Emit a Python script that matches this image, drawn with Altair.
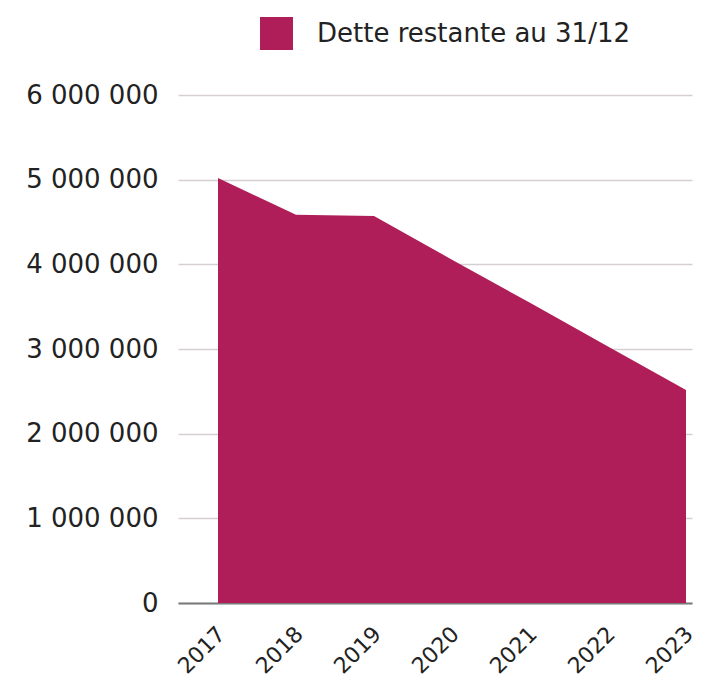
import altair as alt
import pandas as pd

years = [2017, 2018, 2019, 2020, 2021, 2022, 2023]
dette = [5020000, 4585000, 4570000, 4055000, 3545000, 3030000, 2515000]
series_name = "Dette restante au 31/12"
y_ticks = [0, 1000000, 2000000, 3000000, 4000000, 5000000, 6000000]

df = pd.DataFrame({"annee": years, "dette": dette, "serie": [series_name] * len(years)})

FONT = "DejaVu Sans"
COLOR = "#B01E5A"

chart = alt.Chart(df).mark_area(color=COLOR, opacity=1).encode(
    x=alt.X(
        "annee:Q",
        scale=alt.Scale(domain=[2016.4872, 2023.0769], nice=False, zero=False),
        axis=alt.Axis(
            values=years,
            format="d",
            title=None,
            labelAngle=-45,
            labelFontSize=22,
            labelFont=FONT,
            labelColor="#222222",
            ticks=False,
            grid=False,
            domain=True,
            domainColor="#7a7a7a",
            domainWidth=2,
            labelPadding=20,
            labelOffset=-4,
            labelFlush=False,
            labelOverlap=False,
        ),
    ),
    y=alt.Y(
        "dette:Q",
        scale=alt.Scale(domain=[0, 6000000], nice=False),
        axis=alt.Axis(
            values=y_ticks,
            title=None,
            labelExpr="datum.value == 0 ? '0' : format(datum.value / 1000000, 'd') + ' 000 000'",
            labelFontSize=26,
            labelFont=FONT,
            labelColor="#222222",
            labelPadding=20,
            ticks=False,
            domain=False,
            grid=True,
            gridColor="#d6cfd1",
            gridWidth=1.5,
        ),
    ),
    color=alt.Color(
        "serie:N",
        scale=alt.Scale(domain=[series_name], range=[COLOR]),
        legend=alt.Legend(
            title=None,
            orient="none",
            legendX=82,
            legendY=-78,
            symbolType="square",
            symbolSize=1089,
            symbolStrokeWidth=0,
            symbolOpacity=1,
            labelFontSize=26,
            labelFont=FONT,
            labelColor="#222222",
            labelOffset=24,
            labelLimit=0,
        ),
    ),
).properties(
    width=514,
    height=508,
    autosize=alt.AutoSizeParams(type="none"),
    padding={"left": 170, "top": 87, "right": 6, "bottom": 75},
).configure_view(stroke=None)

chart.save("out.html", embed_options={"renderer": "svg", "actions": False})
